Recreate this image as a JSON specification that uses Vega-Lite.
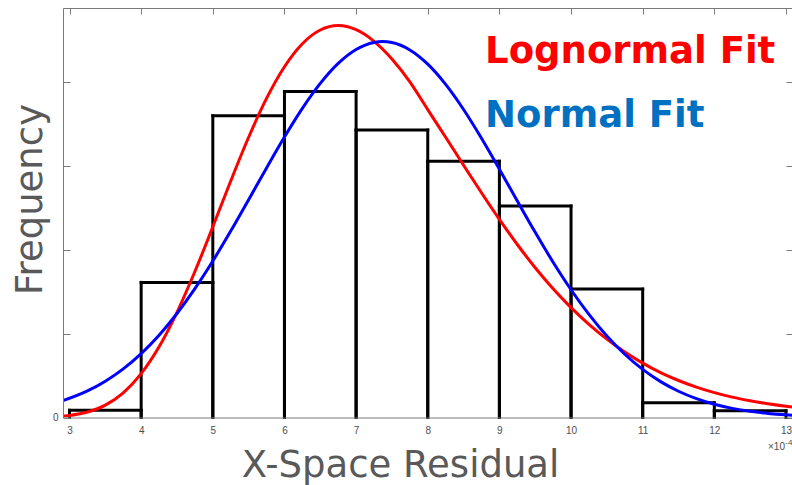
{
  "$schema": "https://vega.github.io/schema/vega-lite/v6.json",
  "width": 729,
  "height": 409.5,
  "autosize": {"type": "none"},
  "padding": {"left": 63, "top": 8, "right": 0, "bottom": 67},
  "background": "white",
  "config": {"view": {"stroke": null}},
  "datasets": {
    "bins": [
      {"lo": 3, "hi": 4, "freq": 1.72},
      {"lo": 4, "hi": 5, "freq": 32.2},
      {"lo": 5, "hi": 6, "freq": 71.9},
      {"lo": 6, "hi": 7, "freq": 77.7},
      {"lo": 7, "hi": 8, "freq": 68.5},
      {"lo": 8, "hi": 9, "freq": 61.1},
      {"lo": 9, "hi": 10, "freq": 50.4},
      {"lo": 10, "hi": 11, "freq": 30.6},
      {"lo": 11, "hi": 12, "freq": 3.5},
      {"lo": 12, "hi": 13, "freq": 1.6}
    ],
    "fits": [
      {"fit": "Lognormal Fit", "x": 2.909, "freq": 0.32},
      {"fit": "Lognormal Fit", "x": 3.0, "freq": 0.49},
      {"fit": "Lognormal Fit", "x": 3.25, "freq": 1.30},
      {"fit": "Lognormal Fit", "x": 3.5, "freq": 2.96},
      {"fit": "Lognormal Fit", "x": 3.75, "freq": 5.89},
      {"fit": "Lognormal Fit", "x": 4.0, "freq": 10.46},
      {"fit": "Lognormal Fit", "x": 4.25, "freq": 16.86},
      {"fit": "Lognormal Fit", "x": 4.5, "freq": 25.08},
      {"fit": "Lognormal Fit", "x": 4.75, "freq": 34.79},
      {"fit": "Lognormal Fit", "x": 5.0, "freq": 45.45},
      {"fit": "Lognormal Fit", "x": 5.25, "freq": 56.37},
      {"fit": "Lognormal Fit", "x": 5.5, "freq": 66.79},
      {"fit": "Lognormal Fit", "x": 5.75, "freq": 76.05},
      {"fit": "Lognormal Fit", "x": 6.0, "freq": 83.60},
      {"fit": "Lognormal Fit", "x": 6.25, "freq": 89.09},
      {"fit": "Lognormal Fit", "x": 6.5, "freq": 92.35},
      {"fit": "Lognormal Fit", "x": 6.75, "freq": 93.40},
      {"fit": "Lognormal Fit", "x": 7.0, "freq": 92.42},
      {"fit": "Lognormal Fit", "x": 7.25, "freq": 89.66},
      {"fit": "Lognormal Fit", "x": 7.5, "freq": 85.46},
      {"fit": "Lognormal Fit", "x": 7.75, "freq": 80.01},
      {"fit": "Lognormal Fit", "x": 8.0, "freq": 73.39},
      {"fit": "Lognormal Fit", "x": 8.25, "freq": 66.79},
      {"fit": "Lognormal Fit", "x": 8.5, "freq": 60.13},
      {"fit": "Lognormal Fit", "x": 8.75, "freq": 53.56},
      {"fit": "Lognormal Fit", "x": 9.0, "freq": 47.21},
      {"fit": "Lognormal Fit", "x": 9.25, "freq": 41.23},
      {"fit": "Lognormal Fit", "x": 9.5, "freq": 35.70},
      {"fit": "Lognormal Fit", "x": 9.75, "freq": 30.68},
      {"fit": "Lognormal Fit", "x": 10.0, "freq": 26.18},
      {"fit": "Lognormal Fit", "x": 10.25, "freq": 22.20},
      {"fit": "Lognormal Fit", "x": 10.5, "freq": 18.67},
      {"fit": "Lognormal Fit", "x": 10.75, "freq": 15.60},
      {"fit": "Lognormal Fit", "x": 11.0, "freq": 12.96},
      {"fit": "Lognormal Fit", "x": 11.25, "freq": 10.71},
      {"fit": "Lognormal Fit", "x": 11.5, "freq": 8.82},
      {"fit": "Lognormal Fit", "x": 11.75, "freq": 7.23},
      {"fit": "Lognormal Fit", "x": 12.0, "freq": 5.92},
      {"fit": "Lognormal Fit", "x": 12.25, "freq": 4.85},
      {"fit": "Lognormal Fit", "x": 12.5, "freq": 3.99},
      {"fit": "Lognormal Fit", "x": 12.75, "freq": 3.27},
      {"fit": "Lognormal Fit", "x": 13.0, "freq": 2.67},
      {"fit": "Lognormal Fit", "x": 13.084, "freq": 2.50},
      {"fit": "Normal Fit", "x": 2.909, "freq": 4.01},
      {"fit": "Normal Fit", "x": 3.25, "freq": 6.34},
      {"fit": "Normal Fit", "x": 3.5, "freq": 8.66},
      {"fit": "Normal Fit", "x": 3.75, "freq": 11.59},
      {"fit": "Normal Fit", "x": 4.0, "freq": 15.23},
      {"fit": "Normal Fit", "x": 4.25, "freq": 19.61},
      {"fit": "Normal Fit", "x": 4.5, "freq": 24.78},
      {"fit": "Normal Fit", "x": 4.75, "freq": 30.70},
      {"fit": "Normal Fit", "x": 5.0, "freq": 37.29},
      {"fit": "Normal Fit", "x": 5.25, "freq": 44.43},
      {"fit": "Normal Fit", "x": 5.5, "freq": 51.91},
      {"fit": "Normal Fit", "x": 5.75, "freq": 59.49},
      {"fit": "Normal Fit", "x": 6.0, "freq": 66.85},
      {"fit": "Normal Fit", "x": 6.25, "freq": 73.67},
      {"fit": "Normal Fit", "x": 6.5, "freq": 79.62},
      {"fit": "Normal Fit", "x": 6.75, "freq": 84.39},
      {"fit": "Normal Fit", "x": 7.0, "freq": 87.71},
      {"fit": "Normal Fit", "x": 7.25, "freq": 89.40},
      {"fit": "Normal Fit", "x": 7.37, "freq": 89.60},
      {"fit": "Normal Fit", "x": 7.5, "freq": 89.36},
      {"fit": "Normal Fit", "x": 7.75, "freq": 87.60},
      {"fit": "Normal Fit", "x": 8.0, "freq": 84.22},
      {"fit": "Normal Fit", "x": 8.25, "freq": 79.40},
      {"fit": "Normal Fit", "x": 8.5, "freq": 73.41},
      {"fit": "Normal Fit", "x": 8.75, "freq": 66.56},
      {"fit": "Normal Fit", "x": 9.0, "freq": 59.19},
      {"fit": "Normal Fit", "x": 9.25, "freq": 51.61},
      {"fit": "Normal Fit", "x": 9.5, "freq": 44.14},
      {"fit": "Normal Fit", "x": 9.75, "freq": 37.01},
      {"fit": "Normal Fit", "x": 10.0, "freq": 30.45},
      {"fit": "Normal Fit", "x": 10.25, "freq": 24.56},
      {"fit": "Normal Fit", "x": 10.5, "freq": 19.42},
      {"fit": "Normal Fit", "x": 10.75, "freq": 15.07},
      {"fit": "Normal Fit", "x": 11.0, "freq": 11.46},
      {"fit": "Normal Fit", "x": 11.25, "freq": 8.55},
      {"fit": "Normal Fit", "x": 11.5, "freq": 6.26},
      {"fit": "Normal Fit", "x": 11.75, "freq": 4.49},
      {"fit": "Normal Fit", "x": 12.0, "freq": 3.16},
      {"fit": "Normal Fit", "x": 12.25, "freq": 2.18},
      {"fit": "Normal Fit", "x": 12.5, "freq": 1.47},
      {"fit": "Normal Fit", "x": 12.75, "freq": 0.98},
      {"fit": "Normal Fit", "x": 13.0, "freq": 0.64},
      {"fit": "Normal Fit", "x": 13.084, "freq": 0.55}
    ],
    "labels": [
      {"label": "Lognormal Fit", "pos": 8.8, "freq": 84.43},
      {"label": "Normal Fit", "pos": 8.8, "freq": 69.18}
    ]
  },
  "layer": [
    {
      "data": {"name": "bins"},
      "mark": {"type": "rect", "fill": "white", "stroke": null},
      "encoding": {
        "x": {
          "field": "lo", "type": "quantitative",
          "scale": {"domain": [2.909, 13.084], "nice": false, "zero": false},
          "axis": {
            "orient": "bottom", "values": [3, 4, 5, 6, 7, 8, 9, 10, 11, 12, 13],
            "ticks": false, "grid": false,
            "domainColor": "#7a7a7a", "domainWidth": 1,
            "labelFont": "Liberation Sans", "labelFontSize": 10, "labelColor": "#4d4d4d",
            "labelPadding": 8, "labelFlush": false, "labelOverlap": false,
            "title": "X-Space Residual", "titleFont": "DejaVu Sans", "titleFontSize": 37,
            "titleFontWeight": "normal", "titleColor": "#595959",
            "titleX": 337, "titleY": 59, "titleAlign": "center", "titleBaseline": "alphabetic",
            "zindex": 1
          }
        },
        "x2": {"field": "hi"},
        "y": {
          "field": "freq", "type": "quantitative",
          "scale": {"domain": [0, 97.6], "nice": false, "zero": true},
          "axis": {
            "orient": "left", "values": [0, 20, 40, 60, 80],
            "labelExpr": "datum.value === 0 ? '0' : ''",
            "tickSize": -7, "tickColor": "#7a7a7a", "grid": false,
            "domainColor": "#7a7a7a", "domainWidth": 1,
            "labelFont": "Liberation Sans", "labelFontSize": 10, "labelColor": "#4d4d4d",
            "labelPadding": 12, "labelFlush": false, "labelOverlap": false,
            "title": "Frequency", "titleFont": "DejaVu Sans", "titleFontSize": 37,
            "titleFontWeight": "normal", "titleColor": "#595959",
            "titleAngle": -90, "titleX": -22, "titleY": 191,
            "titleAlign": "center", "titleBaseline": "alphabetic",
            "zindex": 1
          }
        },
        "y2": {"datum": 0}
      }
    },
    {
      "data": {"name": "bins"},
      "mark": {"type": "rule", "color": "black", "strokeWidth": 3, "strokeCap": "square"},
      "encoding": {
        "x": {"field": "lo", "type": "quantitative", "axis": null},
        "y": {"field": "freq", "type": "quantitative", "axis": null},
        "y2": {"datum": 0}
      }
    },
    {
      "data": {"name": "bins"},
      "mark": {"type": "rule", "color": "black", "strokeWidth": 3, "strokeCap": "square"},
      "encoding": {
        "x": {"field": "hi", "type": "quantitative", "axis": null},
        "y": {"field": "freq", "type": "quantitative", "axis": null},
        "y2": {"datum": 0}
      }
    },
    {
      "data": {"name": "bins"},
      "mark": {"type": "rule", "color": "black", "strokeWidth": 3, "strokeCap": "square"},
      "encoding": {
        "x": {"field": "lo", "type": "quantitative", "axis": null},
        "x2": {"field": "hi"},
        "y": {"field": "freq", "type": "quantitative", "axis": null}
      }
    },
    {
      "data": {"name": "labels"},
      "transform": [{"filter": "datum.label === 'Lognormal Fit'"}],
      "mark": {"type": "text", "align": "left", "baseline": "alphabetic", "font": "DejaVu Sans", "fontSize": 37, "fontWeight": "bold", "color": "#ff0000"},
      "encoding": {
        "x": {"field": "pos", "type": "quantitative", "axis": null},
        "y": {"field": "freq", "type": "quantitative", "axis": null},
        "text": {"field": "label"}
      }
    },
    {
      "data": {"name": "labels"},
      "transform": [{"filter": "datum.label === 'Normal Fit'"}],
      "mark": {"type": "text", "align": "left", "baseline": "alphabetic", "font": "DejaVu Sans", "fontSize": 37, "fontWeight": "bold", "color": "#0070c0"},
      "encoding": {
        "x": {"field": "pos", "type": "quantitative", "axis": null},
        "y": {"field": "freq", "type": "quantitative", "axis": null},
        "text": {"field": "label"}
      }
    },
    {
      "data": {"values": [{"label": "×10", "pos": 12.986, "freq": -7.75}]},
      "mark": {"type": "text", "align": "right", "baseline": "alphabetic", "font": "Liberation Sans", "fontSize": 10, "color": "#4d4d4d"},
      "encoding": {
        "x": {"field": "pos", "type": "quantitative", "axis": null},
        "y": {"field": "freq", "type": "quantitative", "axis": null},
        "text": {"field": "label"}
      }
    },
    {
      "data": {"values": [{"label": "-4", "pos": 12.99, "freq": -6.5}]},
      "mark": {"type": "text", "align": "left", "baseline": "alphabetic", "font": "Liberation Sans", "fontSize": 8, "color": "#4d4d4d"},
      "encoding": {
        "x": {"field": "pos", "type": "quantitative", "axis": null},
        "y": {"field": "freq", "type": "quantitative", "axis": null},
        "text": {"field": "label"}
      }
    },
    {
      "data": {"name": "fits"},
      "mark": {"type": "line", "strokeWidth": 3, "interpolate": "monotone", "clip": true},
      "encoding": {
        "x": {
          "field": "x", "type": "quantitative",
          "axis": {
            "orient": "top", "values": [3, 4, 5, 6, 7, 8, 9, 10, 11, 12, 13],
            "labels": false, "tickSize": -6, "tickColor": "#7a7a7a", "grid": false,
            "domainColor": "#7a7a7a", "domainWidth": 1, "title": null
          }
        },
        "y": {
          "field": "freq", "type": "quantitative",
          "axis": {
            "orient": "right", "values": [0, 20, 40, 60, 80],
            "labels": false, "tickSize": -6, "tickColor": "#7a7a7a", "grid": false,
            "domain": false, "title": null
          }
        },
        "color": {
          "field": "fit", "type": "nominal",
          "scale": {"domain": ["Lognormal Fit", "Normal Fit"], "range": ["#ff0000", "#0000ff"]},
          "legend": null
        }
      }
    }
  ],
  "resolve": {"axis": {"x": "independent", "y": "independent"}}
}
